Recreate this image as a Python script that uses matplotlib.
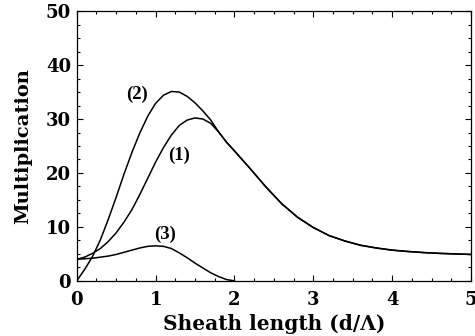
import matplotlib
matplotlib.use('Agg')
import matplotlib.pyplot as plt
from matplotlib.ticker import MultipleLocator
import numpy as np

# curve (1): rising part up to where it joins curve (2)
c1_x = [0.0, 0.1, 0.2, 0.3, 0.4, 0.5, 0.6, 0.7, 0.8, 0.9, 1.0, 1.1, 1.2, 1.3, 1.4, 1.5, 1.6, 1.7]
c1_y = [4.0, 4.4, 5.1, 6.0, 7.3, 8.9, 10.9, 13.2, 16.0, 19.0, 22.0, 24.7, 27.0, 28.8, 29.8, 30.2, 30.0, 29.2]

# curve (2): rising part
c2_x = [0.0, 0.1, 0.2, 0.3, 0.4, 0.5, 0.6, 0.7, 0.8, 0.9, 1.0, 1.1, 1.2, 1.3, 1.4, 1.5, 1.6, 1.7]
c2_y = [0.0, 2.1, 4.5, 7.6, 11.4, 15.5, 19.8, 23.8, 27.4, 30.5, 32.9, 34.4, 35.1, 35.0, 34.2, 33.0, 31.5, 29.8]

# common tail of (1) and (2)
tail_x = [1.8, 1.9, 2.0, 2.2, 2.4, 2.6, 2.8, 3.0, 3.2, 3.4, 3.6, 3.8, 4.0, 4.2, 4.4, 4.6, 4.8, 5.0]
tail_y = [27.6, 25.7, 24.1, 20.8, 17.4, 14.3, 11.8, 9.9, 8.4, 7.4, 6.6, 6.1, 5.7, 5.45, 5.25, 5.1, 5.0, 4.9]

# curve (3)
c3_x = [0.0, 0.1, 0.2, 0.3, 0.4, 0.5, 0.6, 0.7, 0.8, 0.9, 1.0, 1.1, 1.2, 1.3, 1.4, 1.5, 1.6, 1.7, 1.8, 1.9, 2.0]
c3_y = [4.0, 4.1, 4.2, 4.4, 4.6, 4.9, 5.3, 5.7, 6.1, 6.4, 6.5, 6.4, 6.0, 5.2, 4.3, 3.3, 2.4, 1.5, 0.8, 0.25, 0.0]

curve_labels = ['(1)', '(2)', '(3)']
label_x = [1.3, 0.77, 1.12]
label_y = [23.3, 34.6, 8.6]

fig = plt.figure(figsize=(4.75, 3.36), dpi=100)
ax = fig.add_axes([0.1615, 0.164, 0.83, 0.803])

ax.plot(c1_x + tail_x, c1_y + tail_y, color='black', lw=1.1)
ax.plot(c2_x + tail_x, c2_y + tail_y, color='black', lw=1.1)
ax.plot(c3_x, c3_y, color='black', lw=1.1)

for lab, lx, ly in zip(curve_labels, label_x, label_y):
    ax.text(lx, ly, lab, ha='center', va='center', fontsize=13.5,
            family='Liberation Serif', fontweight='bold')

ax.set_xlim(0, 5)
ax.set_ylim(0, 50)
ax.xaxis.set_major_locator(MultipleLocator(1))
ax.xaxis.set_minor_locator(MultipleLocator(0.25))
ax.yaxis.set_major_locator(MultipleLocator(10))
ax.yaxis.set_minor_locator(MultipleLocator(2.5))
ax.tick_params(which='both', direction='in', top=True, right=True, width=0.8)
ax.tick_params(which='major', length=4.5)
ax.tick_params(which='minor', length=2.5)
ax.tick_params(axis='x', pad=7)
ax.tick_params(axis='y', pad=4)
for sp in ax.spines.values():
    sp.set_linewidth(0.9)

for lab in ax.get_xticklabels() + ax.get_yticklabels():
    lab.set_family('DejaVu Serif')
    lab.set_fontweight('bold')
    lab.set_fontsize(13)

ax.set_xlabel('Sheath length (d/\u039b)', family='DejaVu Serif', fontweight='bold', fontsize=14.5, labelpad=4)
ax.set_ylabel('Multiplication', family='DejaVu Serif', fontweight='bold', fontsize=14, labelpad=10)

fig.savefig('out.png', dpi=100)
